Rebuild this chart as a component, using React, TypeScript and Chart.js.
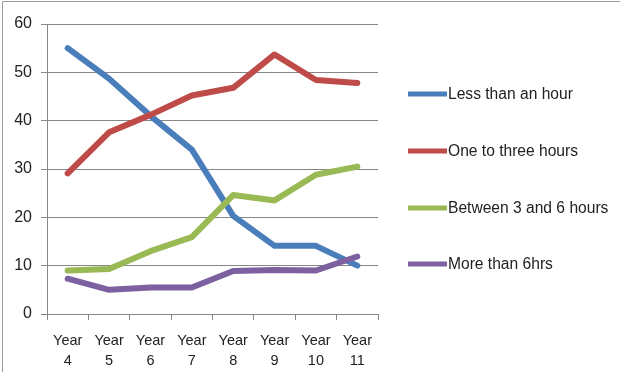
import React, { useEffect, useRef } from "react";
import { Chart, registerables } from "chart.js";

Chart.register(...registerables);

const categories: string[][] = [
  ["Year", "4"], ["Year", "5"], ["Year", "6"], ["Year", "7"],
  ["Year", "8"], ["Year", "9"], ["Year", "10"], ["Year", "11"],
];
const lessThanHour = [55, 48.7, 41, 34, 20.3, 14.1, 14.1, 10];
const oneToThree = [29.1, 37.6, 41.2, 45.2, 46.8, 53.7, 48.4, 47.8];
const threeToSix = [9, 9.3, 13, 15.9, 24.6, 23.5, 28.8, 30.5];
const moreThanSix = [7.3, 5, 5.5, 5.5, 8.9, 9.1, 9, 11.9];
const seriesLabels = ["Less than an hour", "One to three hours", "Between 3 and 6 hours", "More than 6hrs"];
const colors = ["#4A7EBB", "#BE4B48", "#98B954", "#7D60A0"];
const yTicks = [0, 10, 20, 30, 40, 50, 60];

const FONT = "'Liberation Sans', Arial, sans-serif";

export default function App() {
  const ref = useRef<HTMLCanvasElement | null>(null);
  useEffect(() => {
    document.body.style.margin = "0";
    const canvas = ref.current!;
    const series = [lessThanHour, oneToThree, threeToSix, moreThanSix];
    const legendPlugin = {
      id: "customLegend",
      afterDraw(chart: any) {
        const ctx = chart.ctx;
        ctx.save();
        // outer border
        ctx.strokeStyle = "#9a9a9a";
        ctx.lineWidth = 1;
        ctx.beginPath();
        ctx.moveTo(2.5, 372);
        ctx.lineTo(2.5, 1.5);
        ctx.lineTo(620, 1.5);
        ctx.stroke();
        const ys = [94, 151, 208, 264];
        chart.data.datasets.forEach((ds: any, i: number) => {
          ctx.strokeStyle = ds.borderColor;
          ctx.lineWidth = 5;
          ctx.lineCap = "butt";
          ctx.beginPath();
          ctx.moveTo(408, ys[i]);
          ctx.lineTo(447, ys[i]);
          ctx.stroke();
          ctx.fillStyle = "#222";
          ctx.font = `15.6px ${FONT}`;
          ctx.textBaseline = "middle";
          ctx.textAlign = "left";
          ctx.fillText(ds.label, 448, ys[i] + 1);
        });
        ctx.restore();
      },
    };
    const chart = new Chart(canvas, {
      type: "line",
      data: {
        labels: categories,
        datasets: series.map((d, i) => ({
          label: seriesLabels[i],
          data: d,
          borderColor: colors[i],
          backgroundColor: colors[i],
          borderWidth: 6,
          pointRadius: 0,
          tension: 0,
          borderJoinStyle: "round" as const,
          borderCapStyle: "round" as const,
          order: 3 - i,
        })),
      },
      options: {
        animation: false,
        responsive: false,
        devicePixelRatio: 1,
        layout: { padding: { left: 0, top: 24, right: 242, bottom: 0 } },
        plugins: { legend: { display: false }, tooltip: { enabled: false } },
        scales: {
          x: {
            offset: true,
            grid: { offset: true, drawOnChartArea: false, drawTicks: true, tickLength: 6, color: "#868686" },
            border: { color: "#868686" },
            ticks: { color: "#222", font: { family: FONT, size: 14.5, lineHeight: 1.4 }, padding: 11, maxRotation: 0, autoSkip: false },
            afterFit: (s: any) => { s.height = 58; },
          },
          y: {
            min: 0,
            max: 60,
            afterBuildTicks: (s: any) => { s.ticks = yTicks.map((v) => ({ value: v })); },
            grid: { color: "#868686", tickLength: 6 },
            border: { color: "#868686" },
            ticks: { color: "#222", font: { family: FONT, size: 16 }, padding: 9 },
            afterFit: (s: any) => { s.width = 47; },
          },
        },
      },
      plugins: [legendPlugin],
    });
    return () => chart.destroy();
  }, []);
  return (
    <div style={{ width: 620, height: 372, background: "#fff" }}>
      <canvas ref={ref} width={620} height={372} style={{ display: "block" }} />
    </div>
  );
}
